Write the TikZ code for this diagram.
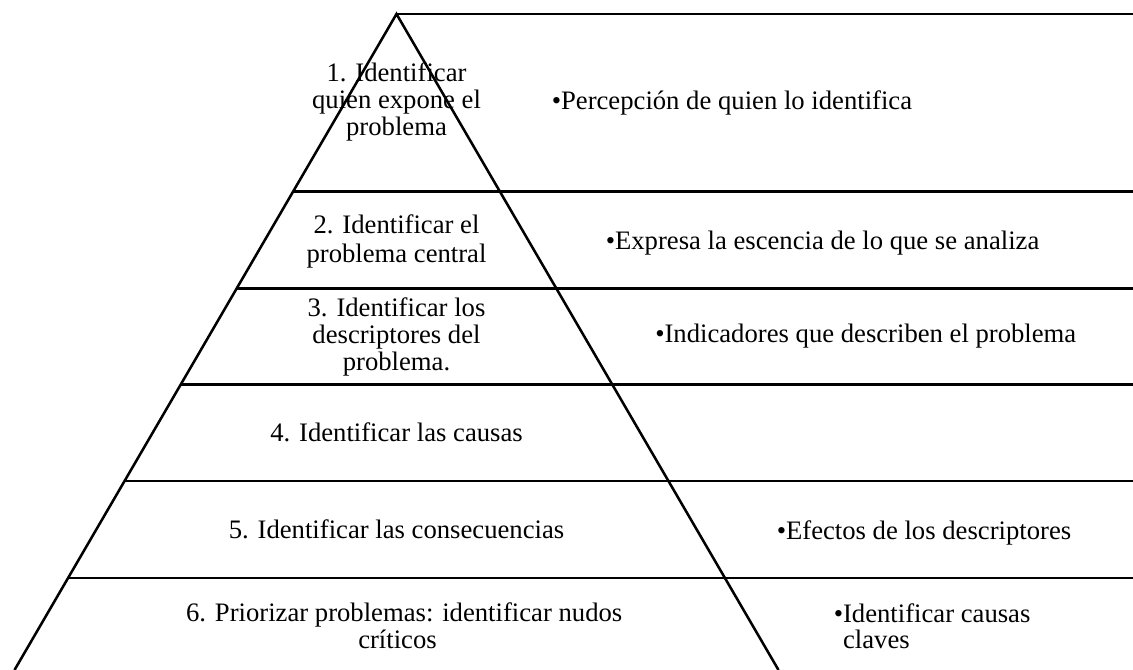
\documentclass[tikz,border=0pt]{standalone}
\usepackage{fontspec}
\setmainfont{Liberation Serif}
\usetikzlibrary{calc}
\newcommand{\stackc}[1]{\begin{tabular}[t]{@{}c@{}}#1\end{tabular}}
\newcommand{\stackl}[1]{\begin{tabular}[t]{@{}l@{}}#1\end{tabular}}
\begin{document}
\begin{tikzpicture}[x=0.75pt,y=-0.75pt,
  band/.style={line width=1.9pt},
  lbl/.style={inner sep=0pt,anchor=base,font=\fontsize{20}{20.25}\selectfont},
  rlbl/.style={inner sep=0pt,anchor=base west,font=\fontsize{20}{20.25}\selectfont}]
\useasboundingbox (0,0) rectangle (1133,670);
% pyramid
\coordinate (A) at (396.5,14);
\coordinate (BL) at (14.5,670);
\coordinate (BR) at (778.5,670);
\coordinate (R) at (1133,0);
\coordinate (L1) at ($(A)!0.2706!(BL)$);
\coordinate (L2) at ($(A)!0.4181!(BL)$);
\coordinate (L3) at ($(A)!0.5648!(BL)$);
\coordinate (L4) at ($(A)!0.7119!(BL)$);
\coordinate (L5) at ($(A)!0.8598!(BL)$);
\draw[band] (BL) -- (A) -- (BR);
\draw[band] (A) -- (A -| R);
\foreach \c in {L1,L2,L3,L4,L5} \draw[band] (\c) -- (\c -| R);
% left labels
\node[lbl] (t1) at (396.5,81.7) {\stackc{1. Identificar\\ quien expone el\\ problema}};
\node[lbl] (t2) at (396.5,234) {\stackc{2. Identificar el\\[1.5pt] problema central}};
\node[lbl] (t3) at (396.5,317) {\stackc{3. Identificar los\\ descriptores del\\ problema.}};
\node[lbl] (t4) at (396.5,441.7) {4. Identificar las causas};
\node[lbl] (t5) at (396.5,538.3) {5. Identificar las consecuencias};
\node[lbl] (t6) at (397.5,621.7) {\stackc{\hspace*{0.5em}6. Priorizar problemas: identificar nudos\\ críticos}};
% right labels
\node[rlbl] (r1) at (551.5,110) {•Percepción de quien lo identifica};
\node[rlbl] (r2) at (605.5,250) {•Expresa la escencia de lo que se analiza};
\node[rlbl] (r3) at (655,343) {•Indicadores que describen el problema};
\node[rlbl] (r5) at (776.5,540) {•Efectos de los descriptores};
\node[rlbl] (r6) at (833.5,622) {\stackl{•Identificar causas\\ \phantom{•}claves}};
\end{tikzpicture}
\end{document}
